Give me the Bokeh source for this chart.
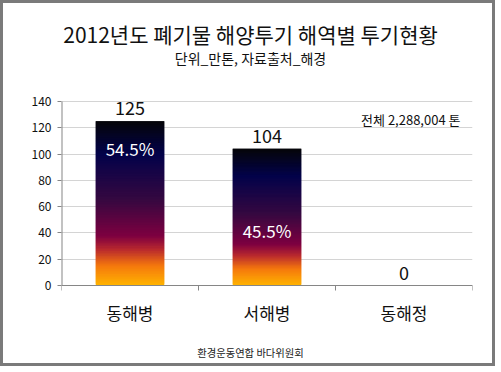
import numpy as np
from bokeh.plotting import figure
from bokeh.models import ColumnDataSource, Label, LabelSet, FixedTicker
from bokeh.core.properties import value
from bokeh.embed import file_html
from bokeh.resources import INLINE

# ---- data ----
categories = ["동해병", "서해병", "동해정"]
tonnage = [125, 104, 0]
value_labels = ["125", "104", "0"]
share_labels = ["54.5%", "45.5%", ""]
y_ticks = [0, 20, 40, 60, 80, 100, 120, 140]
title_text = "2012년도 폐기물 해양투기 해역별 투기현황"
subtitle_text = "단위_만톤, 자료출처_해경"
total_text = "전체 2,288,004 톤"
footer_text = "환경운동연합 바다위원회"

# ---- layout / style (pixel constants of the canvas) ----
FONT = "Noto Sans CJK KR"
CANVAS_W, CANVAS_H = 495, 366
PLOT_LEFT, PLOT_RIGHT = 58, 469          # canvas x of value axis / right end
ZERO_Y, TOP_Y = 282, 98                   # canvas y of 0 and of top tick
share_label_y = [104, 42, 0]
bar_width = 0.5
gradient_stops = [
    (0.00, "#ffb400"),
    (0.12, "#f5780c"),
    (0.22, "#b8282e"),
    (0.30, "#7e0040"),
    (0.52, "#360840"),
    (0.80, "#02024a"),
    (1.00, "#050508"),
]

k = (ZERO_Y - TOP_Y) / (y_ticks[-1] - y_ticks[0])   # px per unit
y_start = -(CANVAS_H - ZERO_Y) / k
y_end = ZERO_Y / k
x_start, x_end = -0.5, len(categories) - 0.5
kx = (PLOT_RIGHT - PLOT_LEFT) / (x_end - x_start)


def px_x(px):
    return x_start + (px - PLOT_LEFT) / kx


def px_y(py):
    return (ZERO_Y - py) / k


def hex_to_rgb(h):
    h = h.lstrip("#")
    return np.array([int(h[i:i + 2], 16) for i in (0, 2, 4)], dtype=float)


def grad_color(t):
    for (t0, c0), (t1, c1) in zip(gradient_stops[:-1], gradient_stops[1:]):
        if t0 <= t <= t1:
            f = (t - t0) / (t1 - t0)
            c = hex_to_rgb(c0) * (1 - f) + hex_to_rgb(c1) * f
            return "#%02x%02x%02x" % tuple(int(round(x)) for x in c)
    return gradient_stops[-1][1]


N = 100
lefts, rights, bottoms, tops, colors = [], [], [], [], []
for i, v in enumerate(tonnage):
    if v <= 0:
        continue
    for j in range(N):
        lefts.append(i - bar_width / 2)
        rights.append(i + bar_width / 2)
        bottoms.append(v * j / N)
        tops.append(min(v, v * (j + 2.0) / N))
        colors.append(grad_color((j + 0.5) / N))

p = figure(
    width=CANVAS_W, height=CANVAS_H,
    x_range=(x_start, x_end), y_range=(y_start, y_end),
    x_axis_location=None,
    output_backend="svg", toolbar_location=None,
    min_border_left=PLOT_LEFT, min_border_right=CANVAS_W - PLOT_RIGHT,
    min_border_top=0, min_border_bottom=0,
    styles={"position": "absolute", "left": "0px", "top": "0px",
            "border": "3px solid #7a7a7a"},
)
p.outline_line_color = None
p.background_fill_color = "white"
p.border_fill_color = "white"
for g in p.xgrid:
    g.visible = False

# value axis
p.yaxis.ticker = FixedTicker(ticks=y_ticks)
p.yaxis.minor_tick_line_color = None
p.yaxis.major_tick_out = 4
p.yaxis.major_tick_in = 0
p.yaxis.axis_line_color = None
p.yaxis.major_tick_line_color = "#868686"
p.yaxis.major_label_text_font = FONT
p.yaxis.major_label_text_font_size = "12px"
p.yaxis.major_label_text_color = "#111111"
p.yaxis.major_label_standoff = 6
p.ygrid.grid_line_color = "#d4d4d4"
p.ygrid.ticker = FixedTicker(ticks=y_ticks)

# bars (vertical gradient)
p.quad(left=lefts, right=rights, bottom=bottoms, top=tops,
       fill_color=colors, line_color=None)

# axis lines and category ticks
bounds = [i - 0.5 for i in range(len(categories) + 1)]
p.segment(x0=[x_start], y0=[y_ticks[0]], x1=[x_start], y1=[y_ticks[-1]],
          line_color="#868686", line_width=2)
p.segment(x0=[x_start], y0=[0], x1=[x_end], y1=[0],
          line_color="#868686", line_width=1)
p.segment(x0=bounds, y0=[0] * len(bounds), x1=bounds, y1=[-5 / k] * len(bounds),
          line_color="#868686", line_width=1)

# labels
src = ColumnDataSource(dict(x=list(range(len(categories))), v=tonnage, cat=categories,
                            zero=[0] * len(categories),
                            vl=value_labels, sl=share_labels, sy=share_label_y))
p.add_layout(LabelSet(x="x", y="v", text="vl", source=src, y_offset=6,
                      text_align="center", text_baseline="bottom",
                      text_font=value(FONT), text_font_size="18px", text_color="#111111"))
p.add_layout(LabelSet(x="x", y="sy", text="sl", source=src,
                      text_align="center", text_baseline="middle",
                      text_font=value(FONT), text_font_size="17px", text_color="white"))
p.add_layout(LabelSet(x="x", y="zero", text="cat", source=src, y_offset=-27,
                      text_align="center", text_baseline="middle",
                      text_font=value(FONT), text_font_size="17px", text_color="#111111"))

p.add_layout(Label(x=px_x(457), y=px_y(116), text=total_text, text_align="right",
                   text_baseline="middle", text_font=FONT,
                   text_font_size="13px", text_color="#111111"))
p.add_layout(Label(x=px_x(247), y=px_y(30), text=title_text, text_align="center",
                   text_baseline="middle", text_font=FONT,
                   text_font_size="21px", text_color="#111111"))
p.add_layout(Label(x=px_x(247), y=px_y(54), text=subtitle_text, text_align="center",
                   text_baseline="middle", text_font=FONT,
                   text_font_size="14px", text_color="#111111"))
p.add_layout(Label(x=px_x(247), y=px_y(349), text=footer_text, text_align="center",
                   text_baseline="middle", text_font=FONT,
                   text_font_size="10.3px", text_color="#222222"))

open("out.html", "w").write(file_html(p, INLINE))
